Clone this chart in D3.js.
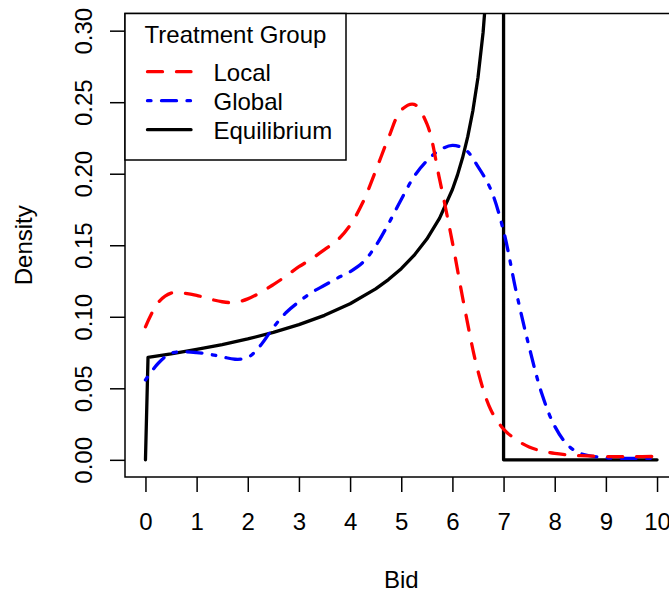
<!DOCTYPE html>
<html>
<head>
<meta charset="utf-8">
<script src="https://cdn.jsdelivr.net/npm/d3@7"></script>
<style>
  html, body { margin: 0; padding: 0; background: #fff; }
  svg { display: block; font-family: "Liberation Sans", Arial, Helvetica, sans-serif; }
</style>
</head>
<body>
<svg id="chart" width="669" height="593"></svg>
<script>
// ---- data ----
const bidGrid = [0, 0.25, 0.5, 0.75, 1, 1.25, 1.5, 1.75, 2, 2.25, 2.5, 2.75, 3, 3.25, 3.5, 3.75,
  4, 4.25, 4.5, 4.75, 5, 5.25, 5.5, 5.75, 6, 6.25, 6.5, 6.75, 7, 7.25, 7.5, 7.75, 8, 8.25, 8.5, 9, 9.5, 10];
const localDensity = [0.093, 0.110, 0.1165, 0.1165, 0.115, 0.1125, 0.1105, 0.1100, 0.1125, 0.1170,
  0.1225, 0.1285, 0.1350, 0.1405, 0.1470, 0.1535, 0.1640, 0.1800, 0.2020, 0.2250, 0.2445, 0.2485,
  0.2350, 0.1960, 0.1520, 0.1040, 0.0620, 0.0350, 0.0215, 0.0140, 0.0090, 0.0062, 0.0045, 0.0035,
  0.0029, 0.0023, 0.0022, 0.0024];
const globalDensity = [0.0558, 0.0675, 0.0745, 0.0755, 0.0750, 0.0738, 0.0720, 0.0703, 0.0715, 0.0800,
  0.0925, 0.1030, 0.1105, 0.1170, 0.1220, 0.1270, 0.1315, 0.1380, 0.1495, 0.1650, 0.1820, 0.1980,
  0.2090, 0.2165, 0.2198, 0.2170, 0.2050, 0.1890, 0.1600, 0.1170, 0.0790, 0.0460, 0.0235, 0.0105,
  0.0045, 0.0015, 0.0010, 0.0010];
const eqBid = [0, 0.05, 0.5, 1, 1.5, 2, 2.5, 3, 3.5, 4, 4.5, 4.75, 5, 5.25, 5.5, 5.75, 6, 6.1, 6.2,
  6.3, 6.4, 6.5, 6.6, 6.7, 6.8, 6.9, 7, 7, 10];
const eqDensity = [0, 0.0717, 0.0741, 0.0772, 0.0806, 0.0845, 0.0891, 0.0945, 0.1010, 0.1091, 0.1195,
  0.1260, 0.1336, 0.1429, 0.1543, 0.1690, 0.1890, 0.1992, 0.2113, 0.2259, 0.2440, 0.2673, 0.2988,
  0.3451, 0.4226, 0.5977, 1.0, 0, 0];
const xTicks = [0, 1, 2, 3, 4, 5, 6, 7, 8, 9, 10];
const yTicks = [0, 0.05, 0.10, 0.15, 0.20, 0.25, 0.30];
const yTickLabels = ["0.00", "0.05", "0.10", "0.15", "0.20", "0.25", "0.30"];
const legendTitle = "Treatment Group";
const seriesNames = ["Local", "Global", "Equilibrium"];
const seriesColors = ["#ff0000", "#0000ff", "#000000"];
const seriesDash = ["15 14", "3.5 10.5 15 10.5", null];

// ---- layout ----
const svg = d3.select("#chart");
const L = 125, R = 677.5, T = 13.5, B = 477;
const FS = 24;
const x = d3.scaleLinear().domain([-0.4, 10.4]).range([L, R]);
const y = d3.scaleLinear().domain([-0.012, 0.312]).range([B, T]);

svg.append("defs").append("clipPath").attr("id", "plotclip")
  .append("rect").attr("x", L).attr("y", T).attr("width", R - L).attr("height", B - T);

// curves
const plot = svg.append("g").attr("clip-path", "url(#plotclip)");
const smooth = d3.line().x(d => x(d[0])).y(d => y(d[1])).curve(d3.curveCatmullRom.alpha(0.5));
const straight = d3.line().x(d => x(d[0])).y(d => y(d[1]));

const lw = 3.3;
plot.append("path").datum(eqBid.map((b, i) => [b, eqDensity[i]]))
  .attr("d", straight).attr("fill", "none").attr("stroke", seriesColors[2])
  .attr("stroke-width", lw).attr("stroke-linejoin", "round").attr("stroke-linecap", "round");
plot.append("path").datum(bidGrid.map((b, i) => [b, globalDensity[i]]))
  .attr("d", smooth).attr("fill", "none").attr("stroke", seriesColors[1])
  .attr("stroke-width", lw).attr("stroke-dasharray", seriesDash[1]).attr("stroke-linecap", "round");
plot.append("path").datum(bidGrid.map((b, i) => [b, localDensity[i]]))
  .attr("d", smooth).attr("fill", "none").attr("stroke", seriesColors[0])
  .attr("stroke-width", lw).attr("stroke-dasharray", seriesDash[0]).attr("stroke-linecap", "round");

// box
svg.append("rect").attr("x", L).attr("y", T).attr("width", R - L).attr("height", B - T)
  .attr("fill", "none").attr("stroke", "#000").attr("stroke-width", 1.5);

// x axis
const xAxis = svg.append("g").attr("transform", `translate(0,${B})`)
  .call(d3.axisBottom(x).tickValues(xTicks).tickSize(15).tickFormat(d3.format("d")));
xAxis.select(".domain").remove();
xAxis.selectAll(".tick line").attr("stroke", "#000").attr("stroke-width", 1.5);
xAxis.selectAll(".tick text").attr("y", 53).attr("dy", 0).attr("fill", "#000")
  .attr("font-size", FS).attr("font-family", null);

// y axis
const yAxis = svg.append("g").attr("transform", `translate(${L},0)`)
  .call(d3.axisLeft(y).tickValues(yTicks).tickSize(15).tickFormat((d, i) => yTickLabels[i]));
yAxis.select(".domain").remove();
yAxis.selectAll(".tick line").attr("stroke", "#000").attr("stroke-width", 1.5);
yAxis.selectAll(".tick text").attr("x", null).attr("dy", 0).attr("fill", "#000")
  .attr("font-size", FS).attr("font-family", null)
  .attr("text-anchor", "middle")
  .attr("transform", "translate(-33.3,0) rotate(-90)");

// axis titles
svg.append("text").attr("x", (L + R) / 2).attr("y", 588).attr("text-anchor", "middle")
  .attr("font-size", FS).text("Bid");
svg.append("text").attr("transform", `translate(32.3,${(T + B) / 2}) rotate(-90)`)
  .attr("text-anchor", "middle").attr("font-size", FS).text("Density");

// legend
const lg = svg.append("g");
lg.append("rect").attr("x", L).attr("y", T).attr("width", 221).attr("height", 160 - T)
  .attr("fill", "#fff").attr("stroke", "#000").attr("stroke-width", 1.5);
lg.append("text").attr("x", L + 110.5).attr("y", 43.3).attr("text-anchor", "middle")
  .attr("font-size", FS).text(legendTitle);
const rowY = [71.7, 100.7, 129.7];
seriesNames.forEach((name, i) => {
  lg.append("line").attr("x1", 147.5).attr("x2", 191).attr("y1", rowY[i]).attr("y2", rowY[i])
    .attr("stroke", seriesColors[i]).attr("stroke-width", lw)
    .attr("stroke-dasharray", seriesDash[i]).attr("stroke-linecap", "round");
  lg.append("text").attr("x", 213.5).attr("y", rowY[i] + 9.3).attr("font-size", FS).text(name);
});
</script>
</body>
</html>
